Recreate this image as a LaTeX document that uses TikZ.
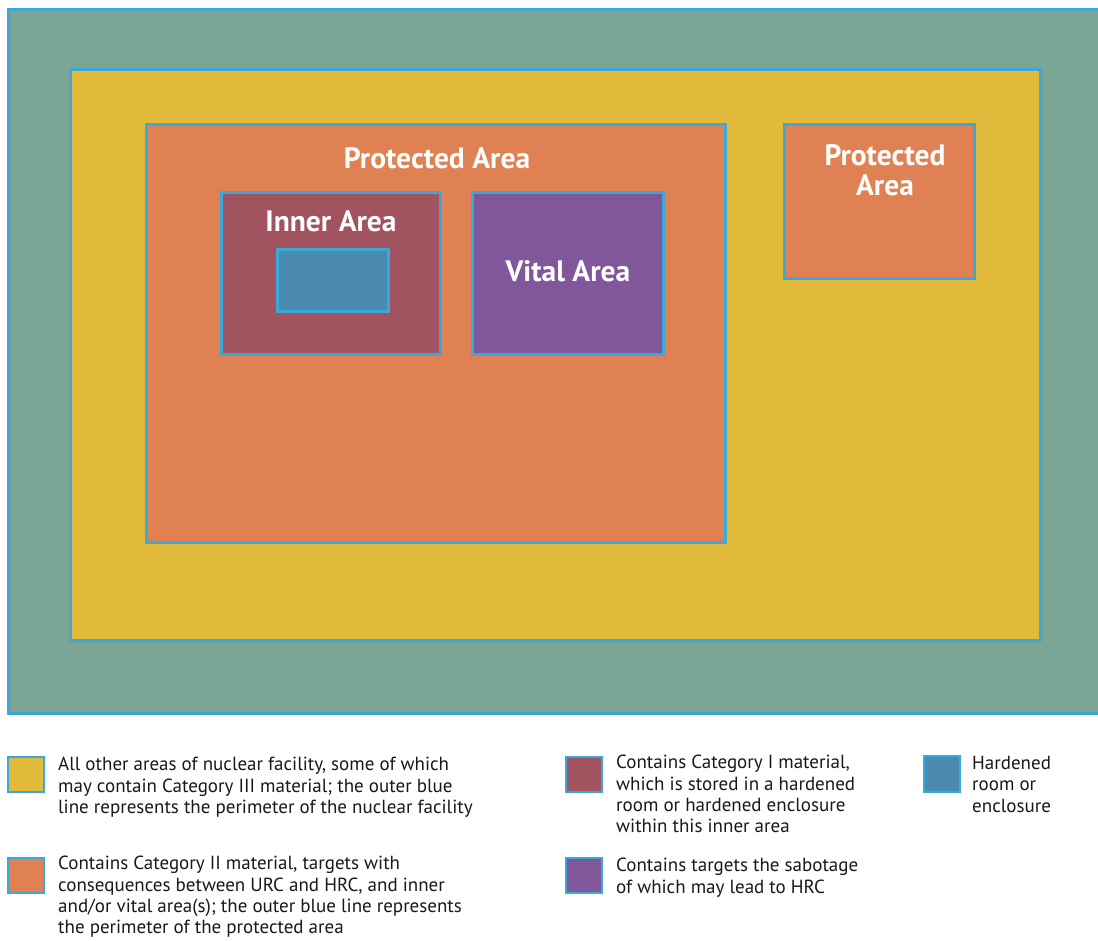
\documentclass[tikz,border=0pt]{standalone}
\usepackage{fontspec}
\setmainfont{PT Sans}
\definecolor{bline}{HTML}{3AA8D8}
\definecolor{cgreen}{HTML}{7BA594}
\definecolor{cyellow}{HTML}{E2BB3C}
\definecolor{corange}{HTML}{E08154}
\definecolor{cred}{HTML}{A25360}
\definecolor{cpurple}{HTML}{80579A}
\definecolor{cblue}{HTML}{4A8BAF}
\begin{document}
\begin{tikzpicture}[x=1pt,y=-1pt,
  zone/.style={draw=bline,line width=3pt},
  lbl/.style={text=white,font=\fontsize{29.5}{29.5}\selectfont\bfseries,align=center,inner sep=0pt},
  legtext/.style={anchor=north west,align=left,inner sep=0pt,text=black!90,font=\fontsize{19}{21.3}\selectfont},
  swatch/.style={draw=bline,line width=2.5pt}]
\useasboundingbox (0,0) rectangle (1098,940);
\fill[white] (0,0) rectangle (1098,940);
% areas
\filldraw[zone,fill=cgreen] (8.5,9.5) rectangle (1110,713);
\filldraw[zone,fill=cyellow] (70,69) rectangle (1040,640);
\filldraw[zone,fill=corange] (146,124) rectangle (725,542);
\filldraw[zone,fill=corange] (784,124) rectangle (974,278);
\filldraw[zone,fill=cred] (221,192) rectangle (440,354);
\filldraw[zone,fill=cblue] (277,249) rectangle (388,311);
\filldraw[zone,fill=cpurple] (472,192) rectangle (663,354);
% labels
\node[lbl] (pa) at (437,158) {Protected Area};
\node[lbl] (pa2) at (885,170) {Protected\\Area};
\node[lbl] (ia) at (331,221) {Inner Area};
\node[lbl] (va) at (568,271) {Vital Area};
% legend
\filldraw[swatch,fill=cyellow] (8,757) rectangle (44,792);
\node[legtext] (l1) at (58,757) {All other areas of nuclear facility, some of which\\may contain Category III material; the outer blue\\line represents the perimeter of the nuclear facility};
\filldraw[swatch,fill=corange] (8,858) rectangle (44,893);
\node[legtext] (l2) at (58,856) {Contains Category II material, targets with\\consequences between URC and HRC, and inner\\and/or vital area(s); the outer blue line represents\\the perimeter of the protected area};
\filldraw[swatch,fill=cred] (566,757) rectangle (602,792);
\node[legtext] (l3) at (616,755) {Contains Category I material,\\which is stored in a hardened\\room or hardened enclosure\\within this inner area};
\filldraw[swatch,fill=cpurple] (566,858) rectangle (602,893);
\node[legtext] (l4) at (616,858) {Contains targets the sabotage\\of which may lead to HRC};
\filldraw[swatch,fill=cblue] (924,756) rectangle (960,792);
\node[legtext] (l5) at (972,756) {Hardened\\room or\\enclosure};
\end{tikzpicture}
\end{document}
